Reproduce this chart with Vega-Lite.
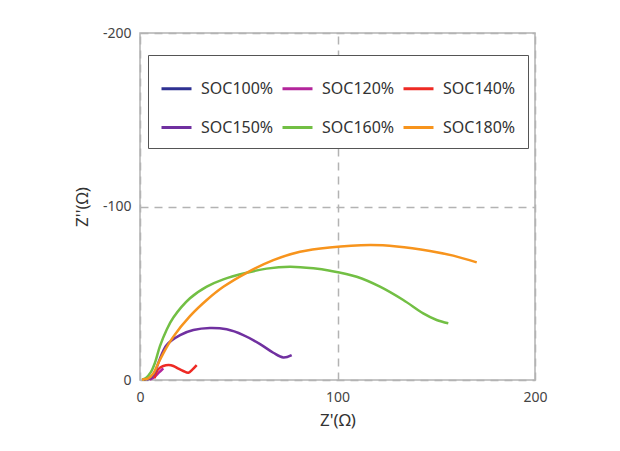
{
  "$schema": "https://vega.github.io/schema/vega-lite/v6.json",
  "width": 395,
  "height": 347,
  "autosize": "none",
  "padding": {"left": 140, "top": 33, "right": 85, "bottom": 71},
  "background": "white",
  "config": {
    "font": "Noto Sans",
    "view": {"stroke": "#b3b3b3", "strokeWidth": 1.5},
    "axis": {
      "domain": false,
      "ticks": false,
      "grid": true,
      "gridColor": "#b3b3b3",
      "gridWidth": 1.5,
      "gridDash": [8, 6],
      "labelFont": "Noto Sans",
      "labelFontSize": 14,
      "labelColor": "#444444",
      "labelFlush": false,
      "titleFont": "Noto Sans",
      "titleFontSize": 17,
      "titleFontWeight": "normal",
      "titleColor": "#333333"
    }
  },
  "data": {
    "values": [
      {"s": "SOC100%", "x": 2, "y": -0.2},
      {"s": "SOC100%", "x": 4, "y": -0.8},
      {"s": "SOC100%", "x": 6, "y": -2},

      {"s": "SOC120%", "x": 5, "y": -0.2},
      {"s": "SOC120%", "x": 7, "y": -1.5},
      {"s": "SOC120%", "x": 9.5, "y": -4.2},
      {"s": "SOC120%", "x": 11.8, "y": -6.7},

      {"s": "SOC140%", "x": 7.4, "y": -1},
      {"s": "SOC140%", "x": 8.4, "y": -4.8},
      {"s": "SOC140%", "x": 10, "y": -7},
      {"s": "SOC140%", "x": 11.8, "y": -8.1},
      {"s": "SOC140%", "x": 14.5, "y": -8.6},
      {"s": "SOC140%", "x": 16.9, "y": -8.1},
      {"s": "SOC140%", "x": 19.5, "y": -6.5},
      {"s": "SOC140%", "x": 21.9, "y": -5.2},
      {"s": "SOC140%", "x": 24.5, "y": -4.2},
      {"s": "SOC140%", "x": 26.5, "y": -6},
      {"s": "SOC140%", "x": 28.7, "y": -8.6},

      {"s": "SOC150%", "x": 3.5, "y": -0.2},
      {"s": "SOC150%", "x": 5.5, "y": -1.2},
      {"s": "SOC150%", "x": 7.6, "y": -4.8},
      {"s": "SOC150%", "x": 10, "y": -12},
      {"s": "SOC150%", "x": 13.5, "y": -20.2},
      {"s": "SOC150%", "x": 20.3, "y": -25.9},
      {"s": "SOC150%", "x": 27, "y": -28.8},
      {"s": "SOC150%", "x": 35.4, "y": -30},
      {"s": "SOC150%", "x": 43.9, "y": -29.2},
      {"s": "SOC150%", "x": 52.3, "y": -25.9},
      {"s": "SOC150%", "x": 60.8, "y": -20.7},
      {"s": "SOC150%", "x": 67.5, "y": -15.7},
      {"s": "SOC150%", "x": 72.6, "y": -13},
      {"s": "SOC150%", "x": 76.8, "y": -14.4},

      {"s": "SOC160%", "x": 1, "y": -0.3},
      {"s": "SOC160%", "x": 3, "y": -1.2},
      {"s": "SOC160%", "x": 5.5, "y": -4.5},
      {"s": "SOC160%", "x": 7.6, "y": -10},
      {"s": "SOC160%", "x": 10.1, "y": -19.5},
      {"s": "SOC160%", "x": 13.5, "y": -29},
      {"s": "SOC160%", "x": 16.9, "y": -36},
      {"s": "SOC160%", "x": 25.3, "y": -47.1},
      {"s": "SOC160%", "x": 33.8, "y": -53.8},
      {"s": "SOC160%", "x": 42.2, "y": -58},
      {"s": "SOC160%", "x": 54, "y": -61.8},
      {"s": "SOC160%", "x": 64.1, "y": -64.2},
      {"s": "SOC160%", "x": 75.9, "y": -65.3},
      {"s": "SOC160%", "x": 87.8, "y": -64.4},
      {"s": "SOC160%", "x": 96.2, "y": -63},
      {"s": "SOC160%", "x": 109.7, "y": -59.5},
      {"s": "SOC160%", "x": 121.5, "y": -53.8},
      {"s": "SOC160%", "x": 133.3, "y": -46.1},
      {"s": "SOC160%", "x": 143.4, "y": -38.4},
      {"s": "SOC160%", "x": 150.2, "y": -34.6},
      {"s": "SOC160%", "x": 156.1, "y": -32.7},

      {"s": "SOC180%", "x": 1, "y": -0.3},
      {"s": "SOC180%", "x": 4, "y": -0.8},
      {"s": "SOC180%", "x": 6.75, "y": -3.8},
      {"s": "SOC180%", "x": 9, "y": -9},
      {"s": "SOC180%", "x": 11.8, "y": -15.4},
      {"s": "SOC180%", "x": 16.9, "y": -25},
      {"s": "SOC180%", "x": 25.3, "y": -36.8},
      {"s": "SOC180%", "x": 33.8, "y": -46.1},
      {"s": "SOC180%", "x": 42.2, "y": -53.7},
      {"s": "SOC180%", "x": 54, "y": -61.8},
      {"s": "SOC180%", "x": 67.5, "y": -69.1},
      {"s": "SOC180%", "x": 81, "y": -73.9},
      {"s": "SOC180%", "x": 96, "y": -76.4},
      {"s": "SOC180%", "x": 116.5, "y": -77.8},
      {"s": "SOC180%", "x": 130, "y": -77},
      {"s": "SOC180%", "x": 146.8, "y": -74.4},
      {"s": "SOC180%", "x": 158.6, "y": -71.7},
      {"s": "SOC180%", "x": 170.5, "y": -67.8}
    ]
  },
  "mark": {"type": "line", "strokeWidth": 2.5, "interpolate": "catmull-rom"},
  "encoding": {
    "x": {
      "field": "x",
      "type": "quantitative",
      "scale": {"domain": [0, 200], "nice": false, "zero": false},
      "axis": {"values": [0, 100, 200], "title": "Z'(Ω)", "labelPadding": 10, "titlePadding": 8}
    },
    "y": {
      "field": "y",
      "type": "quantitative",
      "scale": {"domain": [-200, 0], "reverse": true, "nice": false, "zero": false},
      "axis": {
        "values": [-200, -100, 0],
        "title": "Z''(Ω)",
        "labelPadding": 9,
        "titlePadding": 11,
        "labelExpr": "replace(datum.label, '−', '-')"
      }
    },
    "color": {
      "field": "s",
      "type": "nominal",
      "scale": {
        "domain": ["SOC100%", "SOC120%", "SOC140%", "SOC150%", "SOC160%", "SOC180%"],
        "range": ["#2e3192", "#b3259b", "#ee2a24", "#7030a0", "#72bf44", "#f7941d"]
      },
      "legend": {
        "title": " ",
        "titleFontSize": 5,
        "titlePadding": 0,
        "orient": "none",
        "legendX": 8,
        "legendY": 22,
        "direction": "horizontal",
        "columns": 3,
        "symbolType": "stroke",
        "symbolSize": 900,
        "symbolStrokeWidth": 3,
        "labelFont": "Noto Sans",
        "labelFontSize": 16,
        "labelColor": "#333333",
        "labelOffset": 8,
        "columnPadding": 2,
        "rowPadding": 14,
        "padding": 12,
        "strokeColor": "#555555",
        "fillColor": "white"
      }
    }
  }
}
